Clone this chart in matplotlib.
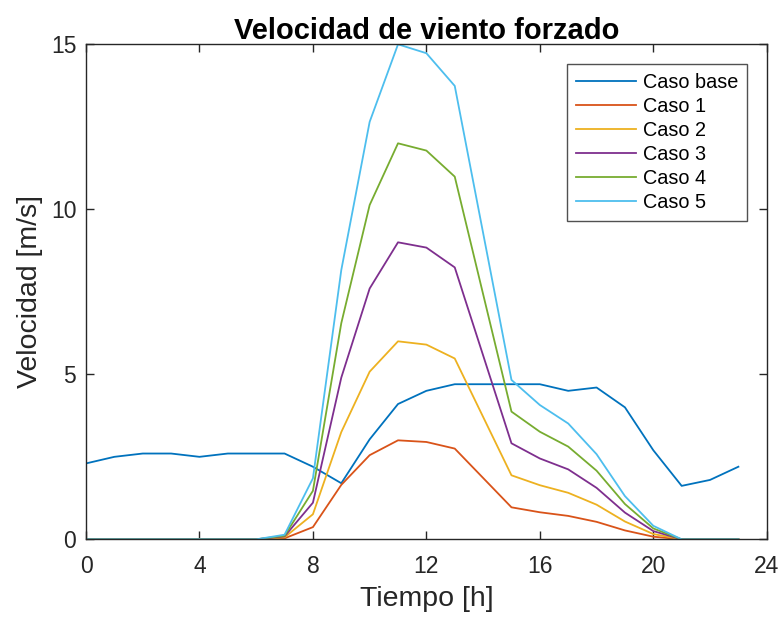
import numpy as np
import matplotlib.pyplot as plt

plt.rcParams['font.family'] = ['Liberation Sans', 'DejaVu Sans']

# hourly wind speed [m/s]; hour 14 not sampled
hours = [0, 1, 2, 3, 4, 5, 6, 7, 8, 9, 10, 11, 12, 13, 15, 16, 17, 18, 19, 20, 21, 22, 23]

caso_base = [2.3, 2.5, 2.6, 2.6, 2.5, 2.6, 2.6, 2.6, 2.2, 1.7, 3.03, 4.1, 4.5, 4.7,
             4.7, 4.7, 4.5, 4.6, 4.0, 2.7, 1.62, 1.8, 2.2]
caso_1 = [0, 0, 0, 0, 0, 0, 0, 0.03, 0.37, 1.65, 2.55, 3.0, 2.95, 2.75,
          0.97, 0.82, 0.71, 0.53, 0.27, 0.08, 0, 0, 0]
caso_2 = [0, 0, 0, 0, 0, 0, 0, 0.06, 0.76, 3.25, 5.08, 6.0, 5.9, 5.48,
          1.94, 1.64, 1.41, 1.05, 0.54, 0.16, 0, 0, 0]
caso_3 = [0, 0, 0, 0, 0, 0, 0, 0.09, 1.11, 4.9, 7.6, 9.0, 8.84, 8.24,
          2.91, 2.45, 2.12, 1.56, 0.81, 0.25, 0, 0, 0]
caso_4 = [0, 0, 0, 0, 0, 0, 0, 0.11, 1.47, 6.55, 10.13, 12.0, 11.78, 10.99,
          3.87, 3.26, 2.81, 2.08, 1.07, 0.33, 0, 0, 0]
caso_5 = [0, 0, 0, 0, 0, 0, 0, 0.14, 1.85, 8.16, 12.65, 15.0, 14.73, 13.74,
          4.83, 4.07, 3.51, 2.58, 1.31, 0.41, 0, 0, 0]

labels = ['Caso base', 'Caso 1', 'Caso 2', 'Caso 3', 'Caso 4', 'Caso 5']
series = [caso_base, caso_1, caso_2, caso_3, caso_4, caso_5]
colors = ['#0072BD', '#D95319', '#EDB120', '#7E2F8E', '#77AC30', '#4DBEEE']

fig = plt.figure(figsize=(7.84, 6.18), dpi=100)
ax = fig.add_axes([0.1097, 0.1273, 0.8683, 0.801])

for y, lab, c in zip(series, labels, colors):
    ax.plot(hours, y, color=c, lw=1.3, label=lab)

ax.set_xlim(0, 24)
ax.set_ylim(0, 15)
ax.set_xticks(np.arange(0, 25, 4))
ax.set_yticks([0, 5, 10, 15])

dark = '#262626'
for s in ax.spines.values():
    s.set_color(dark)
    s.set_linewidth(1.0)
ax.tick_params(direction='in', length=6, width=1.0, colors=dark, labelsize=16.5,
               top=True, right=True)
ax.tick_params(axis='x', pad=11)
ax.tick_params(axis='y', pad=7)

ax.set_title('Velocidad de viento forzado', fontsize=21, fontweight='bold', pad=4)
ax.set_xlabel('Tiempo [h]', fontsize=20.5, color=dark, labelpad=6)
ax.set_ylabel('Velocidad [m/s]', fontsize=20.5, color=dark, labelpad=5.5)

leg = ax.legend(loc='upper right', fontsize=14.3, frameon=True, fancybox=False,
                edgecolor=dark, borderaxespad=1.0, handlelength=3.0,
                labelspacing=0.25, borderpad=0.45, handletextpad=0.35)
leg.get_frame().set_linewidth(1.0)

fig.savefig('out.png', dpi=100, facecolor='white')
